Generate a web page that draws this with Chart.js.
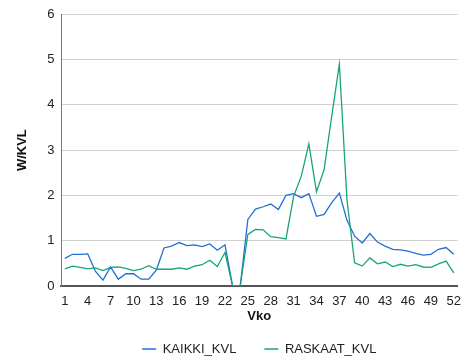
<!DOCTYPE html>
<html>
<head>
<meta charset="utf-8">
<script src="https://cdn.jsdelivr.net/npm/chart.js@4.4.1/dist/chart.umd.min.js"></script>
<style>
  html, body { margin: 0; padding: 0; background: #ffffff; }
  #wrap { width: 461px; height: 360px; }
</style>
</head>
<body>
<div id="wrap"><canvas id="c" width="461" height="360"></canvas></div>
<script>
const weeks = ['1','2','3','4','5','6','7','8','9','10','11','12','13','14','15','16','17','18','19','20','21','22','23','24','25','26','27','28','29','30','31','32','33','34','35','36','37','38','39','40','41','42','43','44','45','46','47','48','49','50','51','52'];

const kaikkiKvl = [0.61,0.70,0.70,0.71,0.33,0.13,0.42,0.15,0.27,0.27,0.15,0.15,0.35,0.84,0.88,0.96,0.89,0.91,0.87,0.93,0.79,0.91,0,0,1.47,1.70,1.75,1.81,1.69,2.00,2.04,1.95,2.04,1.54,1.58,1.84,2.05,1.45,1.10,0.95,1.16,0.97,0.88,0.81,0.80,0.77,0.72,0.68,0.70,0.81,0.85,0.70];

const raskaatKvl = [0.38,0.44,0.41,0.38,0.40,0.34,0.41,0.42,0.39,0.34,0.37,0.45,0.37,0.37,0.37,0.40,0.37,0.44,0.47,0.57,0.43,0.74,0,0,1.14,1.25,1.24,1.09,1.07,1.04,1.98,2.42,3.14,2.08,2.57,3.75,4.90,1.90,0.51,0.44,0.62,0.49,0.53,0.43,0.48,0.44,0.47,0.42,0.41,0.49,0.55,0.29];

const yTicks = [0,1,2,3,4,5,6];
const seriesNames = ['KAIKKI_KVL','RASKAAT_KVL'];
const xTitle = 'Vko';
const yTitle = 'W/KVL';

const FONT = '"Liberation Sans", Arial, sans-serif';

new Chart(document.getElementById('c'), {
  type: 'line',
  data: {
    labels: weeks,
    datasets: [
      { label: seriesNames[0], data: kaikkiKvl, borderColor: '#1f6fd6', backgroundColor: '#1f6fd6',
        borderWidth: 1.3, pointRadius: 0, tension: 0, order: 2 },
      { label: seriesNames[1], data: raskaatKvl, borderColor: '#17a47a', backgroundColor: '#17a47a',
        borderWidth: 1.3, pointRadius: 0, tension: 0, order: 1 }
    ]
  },
  options: {
    responsive: false,
    animation: false,
    devicePixelRatio: 1,
    layout: { padding: { top: 0, right: 3, left: 0, bottom: -5.5 } },
    plugins: {
      tooltip: { enabled: false },
      legend: {
        position: 'bottom',
        fullSize: false,
        labels: {
          usePointStyle: true,
          pointStyle: 'line',
          pointStyleWidth: 14,
          padding: 28,
          color: '#222',
          font: { family: FONT, size: 13 },
          sort: (a, b) => a.datasetIndex - b.datasetIndex
        }
      }
    },
    scales: {
      x: {
        offset: true,
        grid: { display: false, drawTicks: false },
        border: { display: true, color: '#555', width: 2 },
        ticks: {
          autoSkip: false, maxRotation: 0, minRotation: 0, padding: 0,
          color: '#222', font: { family: FONT, size: 13, lineHeight: '31.4px' },
          callback: function(v, i) { return i % 3 === 0 ? weeks[i] : ''; }
        },
        title: { display: true, text: xTitle, color: '#111',
          font: { family: FONT, size: 13, weight: 'bold' },
          padding: { top: -9.2, bottom: -9.3 } }
      },
      y: {
        min: 0, max: 6,
        afterBuildTicks: (s) => { s.ticks = yTicks.map(v => ({ value: v })); },
        grid: { color: '#d0d0d0', lineWidth: 1, drawTicks: false },
        border: { display: true, color: '#777', width: 1 },
        ticks: { padding: 6.5, color: '#222', font: { family: FONT, size: 13 } },
        title: { display: true, text: yTitle, color: '#111',
          font: { family: FONT, size: 13, weight: 'bold' },
          padding: { top: 14.2, bottom: 11 } }
      }
    }
  }
});
</script>
</body>
</html>
